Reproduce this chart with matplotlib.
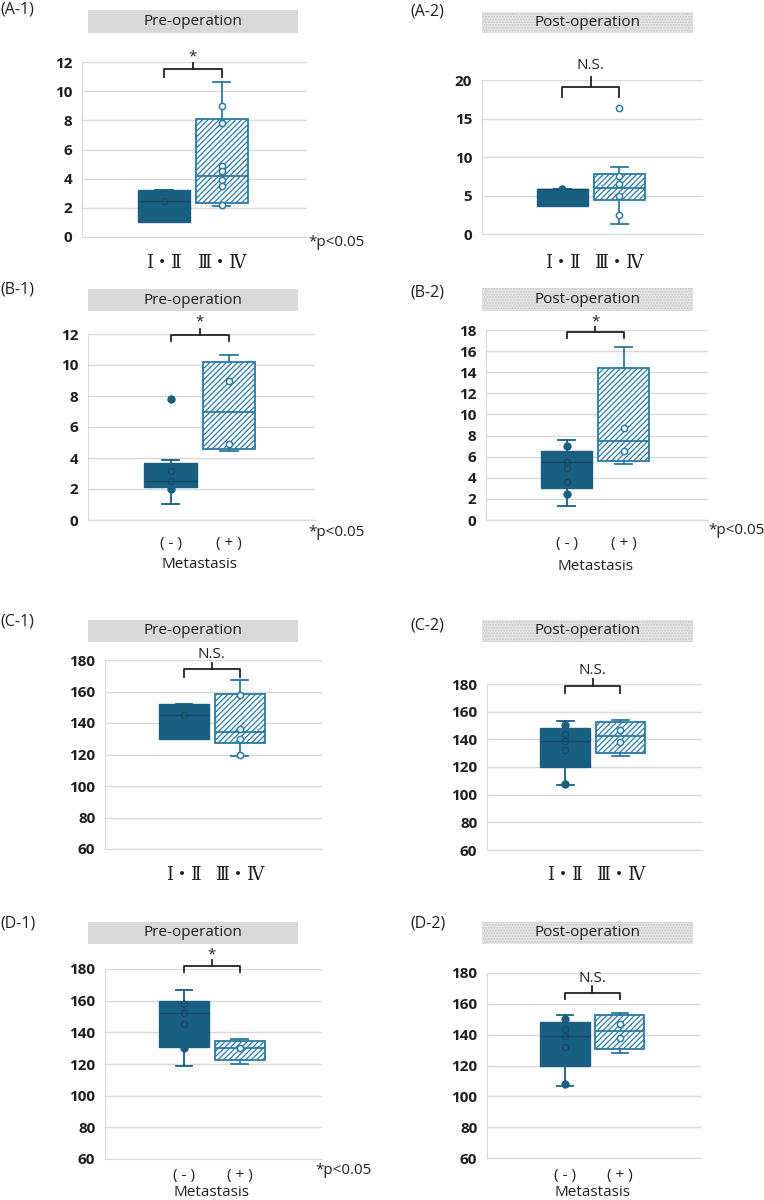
import matplotlib
matplotlib.use('Agg')
import matplotlib.pyplot as plt
from matplotlib.patches import Rectangle
from matplotlib.transforms import blended_transform_factory

plt.rcParams['font.family'] = ['Open Sans', 'Noto Sans CJK JP', 'DejaVu Sans']
plt.rcParams['hatch.linewidth'] = 0.9

W, H = 764, 1200

# ---------- data ----------
STAGE_LABELS = ['Ⅰ・Ⅱ', 'Ⅲ・Ⅳ']
META_LABELS = ['( - )', '( + )']

A1_whislo = [1.0, 2.1]
A1_q1 = [1.0, 2.3]
A1_med = [2.5, 4.2]
A1_q3 = [3.2, 8.1]
A1_whishi = [3.2, 10.65]
A1_open = [[2.5], [9.0, 7.8, 4.9, 4.5, 3.9, 3.5, 2.2]]
A1_filled = [[], []]

A2_whislo = [3.7, 1.3]
A2_q1 = [3.7, 4.4]
A2_med = [5.9, 6.0]
A2_q3 = [5.9, 7.8]
A2_whishi = [5.9, 8.7]
A2_open = [[], [16.3, 7.5, 6.5, 5.0, 2.5]]
A2_filled = [[5.85], []]

B1_whislo = [1.05, 4.45]
B1_q1 = [2.1, 4.6]
B1_med = [2.5, 7.0]
B1_q3 = [3.65, 10.2]
B1_whishi = [3.85, 10.65]
B1_open = [[3.15, 2.5], [9.0, 4.9]]
B1_filled = [[7.8, 2.0], []]

B2_whislo = [1.3, 5.3]
B2_q1 = [3.0, 5.6]
B2_med = [5.5, 7.5]
B2_q3 = [6.5, 14.4]
B2_whishi = [7.55, 16.4]
B2_open = [[5.5, 4.9, 3.6], [8.7, 6.5]]
B2_filled = [[7.0, 2.5], []]

C1_whislo = [130, 119]
C1_q1 = [130, 127.5]
C1_med = [145, 134]
C1_q3 = [152, 158.5]
C1_whishi = [152, 167]
C1_open = [[145], [158, 136, 130, 120]]
C1_filled = [[], []]

C2_whislo = [107, 128]
C2_q1 = [120, 130]
C2_med = [139, 142.5]
C2_q3 = [148.5, 152.5]
C2_whishi = [153.5, 154]
C2_open = [[144, 139, 132], [146.5, 138]]
C2_filled = [[150.5, 108], []]

D1_whislo = [119, 120]
D1_q1 = [130.5, 122.5]
D1_med = [152, 130]
D1_q3 = [159.5, 134.5]
D1_whishi = [167, 136]
D1_open = [[158, 152, 145], [130]]
D1_filled = [[130], []]

D2_whislo = [107, 128]
D2_q1 = [120, 130.5]
D2_med = [139, 142.5]
D2_q3 = [148.5, 152.5]
D2_whishi = [153, 154]
D2_open = [[144, 139, 132], [147, 138]]
D2_filled = [[150, 108], []]

# ---------- layout (pixel positions) ----------
PANELS = [
    dict(tag='(A-1)', lab=(0, 9), title='Pre-operation', tbox=(88, 10, 298, 33), post=False,
         rect=(82, 62, 307, 237), ylim=(0, 12), step=2,
         stats=(A1_whislo, A1_q1, A1_med, A1_q3, A1_whishi), opn=A1_open, fil=A1_filled,
         xl=STAGE_LABELS, xl_y=263, meta=None, br=(11.0, 11.5, 11.9), sig='*', sig_y=12.35,
         note=(308, 243)),
    dict(tag='(A-2)', lab=(410, 12), title='Post-operation', tbox=(482, 12, 693, 33), post=True,
         rect=(482, 80, 703, 234), ylim=(0, 20), step=5,
         stats=(A2_whislo, A2_q1, A2_med, A2_q3, A2_whishi), opn=A2_open, fil=A2_filled,
         xl=STAGE_LABELS, xl_y=263, meta=None, br=(17.75, 19.1, 20.4), sig='N.S.', sig_y=21.9,
         note=None),
    dict(tag='(B-1)', lab=(0, 289), title='Pre-operation', tbox=(88, 289, 298, 311), post=False,
         rect=(88, 334, 315, 520), ylim=(0, 12), step=2,
         stats=(B1_whislo, B1_q1, B1_med, B1_q3, B1_whishi), opn=B1_open, fil=B1_filled,
         xl=META_LABELS, xl_y=543, meta=565, br=(11.55, 11.95, 12.3), sig='*', sig_y=12.75,
         note=(308, 532)),
    dict(tag='(B-2)', lab=(410, 292), title='Post-operation', tbox=(482, 288, 693, 311), post=True,
         rect=(486, 330, 708, 520), ylim=(0, 18), step=2,
         stats=(B2_whislo, B2_q1, B2_med, B2_q3, B2_whishi), opn=B2_open, fil=B2_filled,
         xl=META_LABELS, xl_y=543, meta=567, br=(17.2, 17.8, 18.3), sig='*', sig_y=18.8,
         note=(708, 530)),
    dict(tag='(C-1)', lab=(0, 621), title='Pre-operation', tbox=(88, 620, 298, 642), post=False,
         rect=(105, 660, 322, 849), ylim=(60, 180), step=20,
         stats=(C1_whislo, C1_q1, C1_med, C1_q3, C1_whishi), opn=C1_open, fil=C1_filled,
         xl=STAGE_LABELS, xl_y=875, meta=None, br=(169.5, 174, 178), sig='N.S.', sig_y=183.8,
         note=None),
    dict(tag='(C-2)', lab=(410, 625), title='Post-operation', tbox=(482, 620, 693, 642), post=True,
         rect=(487, 684, 702, 850), ylim=(60, 180), step=20,
         stats=(C2_whislo, C2_q1, C2_med, C2_q3, C2_whishi), opn=C2_open, fil=C2_filled,
         xl=STAGE_LABELS, xl_y=875, meta=None, br=(173.7, 178.6, 183.4), sig='N.S.', sig_y=190,
         note=None),
    dict(tag='(D-1)', lab=(0, 923), title='Pre-operation', tbox=(88, 922, 298, 944), post=False,
         rect=(105, 969, 322, 1159), ylim=(60, 180), step=20,
         stats=(D1_whislo, D1_q1, D1_med, D1_q3, D1_whishi), opn=D1_open, fil=D1_filled,
         xl=META_LABELS, xl_y=1175, meta=1193, br=(178, 182, 186), sig='*', sig_y=189,
         note=(315, 1170)),
    dict(tag='(D-2)', lab=(410, 923), title='Post-operation', tbox=(482, 922, 693, 944), post=True,
         rect=(487, 973, 701, 1158), ylim=(60, 180), step=20,
         stats=(D2_whislo, D2_q1, D2_med, D2_q3, D2_whishi), opn=D2_open, fil=D2_filled,
         xl=META_LABELS, xl_y=1175, meta=1193, br=(163, 167, 171.4), sig='N.S.', sig_y=176.4,
         note=None),
]

DARK = '#1a5e80'
DARK_LINE = '#134c69'
BLUE = '#2b7aa1'
GRID = '#d9d9d9'
TXT = '#1f1f1f'


def fx(px):
    return px / W


def fy(py):
    return 1 - py / H


fig = plt.figure(figsize=(W / 100, H / 100), dpi=100)

for p in PANELS:
    l, t, r, b = p['rect']
    ax = fig.add_axes([fx(l), fy(b), (r - l) / W, (b - t) / H])
    ax.set_xlim(-0.42, 3.48)
    ax.set_ylim(*p['ylim'])
    y0, y1 = p['ylim']
    ax.set_yticks(range(y0, y1 + 1, p['step']))
    ax.yaxis.grid(True, color=GRID, lw=1.0)
    ax.set_axisbelow(True)
    for s in ['top', 'right']:
        ax.spines[s].set_visible(False)
    ax.spines['left'].set_color(GRID)
    ax.spines['bottom'].set_color(GRID)
    ax.tick_params(axis='y', length=0, pad=7, labelsize=11, labelcolor=TXT)
    for lbl in ax.get_yticklabels():
        lbl.set_fontweight('bold')

    # category labels
    ax.set_xticks([1, 2])
    is_stage = p['xl'] is STAGE_LABELS
    ax.set_xticklabels(p['xl'], fontsize=13 if is_stage else 11, color=TXT,
                       family=['DejaVu Serif', 'Noto Sans CJK JP'] if is_stage else None)
    ax.tick_params(axis='x', length=0, pad=(p['xl_y'] - b) * 0.72)
    for lbl in ax.get_xticklabels():
        lbl.set_va('center')

    lo, q1, med, q3, hi = p['stats']
    stats = [dict(whislo=lo[i], q1=q1[i], med=med[i], q3=q3[i], whishi=hi[i]) for i in range(2)]
    bp = ax.bxp(stats, positions=[1, 2], widths=0.9, showfliers=False,
                patch_artist=True, capwidths=0.3, manage_ticks=False)
    bp['boxes'][0].set(facecolor=DARK, edgecolor=DARK, lw=1.0)
    bp['boxes'][1].set(facecolor='white', edgecolor=BLUE, lw=1.3, hatch='//////')
    for k, col in enumerate([DARK, DARK, BLUE, BLUE]):
        bp['whiskers'][k].set(color=col, lw=1.3)
        bp['caps'][k].set(color=col, lw=1.3)
    bp['medians'][0].set(color=DARK_LINE, lw=1.0)
    bp['medians'][1].set(color=BLUE, lw=1.3)

    # inner points
    for i in range(2):
        xs = [i + 1] * len(p['opn'][i])
        if i == 0:
            ax.plot(xs, p['opn'][i], 'o', ms=4.5, mfc='none', mec=DARK_LINE, mew=0.9, zorder=4)
        else:
            ax.plot(xs, p['opn'][i], 'o', ms=4.5, mfc='white', mec=BLUE, mew=1.1, zorder=4)
        xf = [i + 1] * len(p['fil'][i])
        ax.plot(xf, p['fil'][i], 'o', ms=5, mfc=DARK, mec=DARK, zorder=4)

    # significance bracket
    tip, hy, top = p['br']
    ax.plot([1, 1, 2, 2], [tip, hy, hy, tip], color='#222222', lw=1.3, clip_on=False)
    ax.plot([1.5, 1.5], [hy, top], color='#222222', lw=1.3, clip_on=False)
    ax.text(1.5, p['sig_y'], p['sig'], ha='center', va='center', fontsize=11,
            color=TXT, clip_on=False)

    if p['meta'] is not None:
        tr = blended_transform_factory(ax.transData, fig.transFigure)
        ax.text(1.5, fy(p['meta']), 'Metastasis', transform=tr, ha='center', va='center',
                fontsize=11, color=TXT)

    # title box above the panel
    x0, ty0, x1, ty1 = p['tbox']
    if p['post']:
        rect = Rectangle((fx(x0), fy(ty1)), (x1 - x0) / W, (ty1 - ty0) / H,
                         transform=fig.transFigure, facecolor='#e6e6e6',
                         edgecolor='#c4c4c4', lw=0, hatch='......')
    else:
        rect = Rectangle((fx(x0), fy(ty1)), (x1 - x0) / W, (ty1 - ty0) / H,
                         transform=fig.transFigure, facecolor='#d9d9d9', lw=0)
    fig.add_artist(rect)
    fig.text(fx((x0 + x1) / 2), fy((ty0 + ty1) / 2), p['title'], ha='center', va='center',
             fontsize=11, color=TXT)

    fig.text(fx(p['lab'][0]), fy(p['lab'][1]), p['tag'], ha='left', va='center',
             fontsize=11.5, color=TXT)

    if p['note'] is not None:
        fig.text(fx(p['note'][0]), fy(p['note'][1]), '*p<0.05', ha='left', va='center',
                 fontsize=11, color=TXT)

fig.savefig('out.png', dpi=100)
